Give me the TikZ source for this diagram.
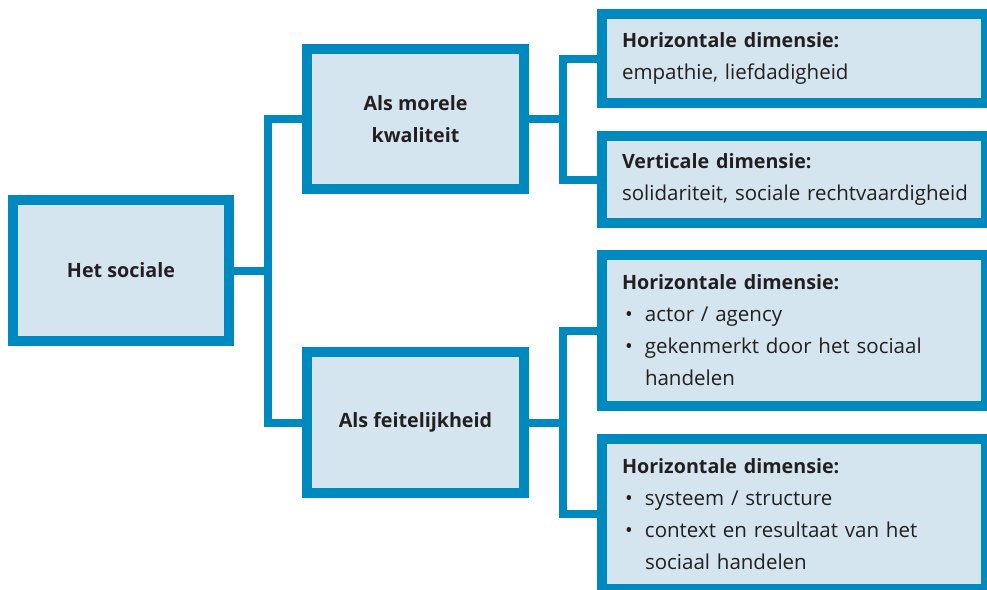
\documentclass[tikz,border=0pt]{standalone}
\usepackage{fontspec}
\setmainfont{Open Sans}
\usetikzlibrary{positioning}
\definecolor{dimblue}{HTML}{0089BF}
\definecolor{dimfill}{HTML}{D5E5F0}
\definecolor{dimtext}{HTML}{231F20}
\newcommand{\bulitem}{\makebox[23pt][l]{\hspace{3pt}\textbullet}}
\newcommand{\bulrest}{\hspace*{23pt}}
\newcommand{\dimhead}[1]{{\fontsize{19.7}{32}\selectfont\bfseries #1}}
\begin{document}
\begin{tikzpicture}[x=1pt,y=-1pt,
    box/.style={draw=dimblue,line width=10pt,fill=dimfill,text=dimtext,inner sep=0pt},
    mainbox/.style={box,minimum width=217pt,minimum height=141pt,align=center,font=\bfseries\fontsize{19.7}{32}\selectfont},
    dimbox/.style={box,text width=344pt,inner xsep=20pt,align=left,font=\fontsize{20.5}{32}\selectfont},
    link/.style={draw=dimblue,line width=8pt}]
    \clip (0,0) rectangle (987,589);
    \node[mainbox,minimum width=216pt] (soc) at (121,270.5) {Het sociale};
    \node[mainbox,minimum height=140pt] (mor) at (415.5,119) {Als morele\\kwaliteit};
    \node[mainbox] (feit) at (415.5,422.5) {Als feitelijkheid};
    \node[dimbox,minimum height=89pt] (hor) at (794,58.5) {\dimhead{Horizontale dimensie:}\\empathie, liefdadigheid};
    \node[dimbox,minimum height=87pt] (vert) at (794,179.5) {\dimhead{Verticale dimensie:}\\\mbox{solidariteit, sociale rechtvaardigheid}};
    \node[dimbox,minimum height=151pt] (act) at (794,330.5) {\dimhead{Horizontale dimensie:}\\\bulitem actor / agency\\\bulitem gekenmerkt door het sociaal\\\bulrest handelen};
    \node[dimbox,minimum height=150pt] (sys) at (794,514) {\dimhead{Horizontale dimensie:}\\\bulitem systeem / structure\\\bulitem context en resultaat van het\\\bulrest sociaal handelen};
    \coordinate (jl) at (268,270.5);
    \coordinate (jm) at (563,119);
    \coordinate (jf) at (563,422.5);
    \draw[link] (soc.east) -- (jl);
    \draw[link] (mor.west) -| (jl) |- (feit.west);
    \draw[link] (mor.east) -- (jm);
    \draw[link] (hor.west) -| (jm) |- (vert.west);
    \draw[link] (feit.east) -- (jf);
    \draw[link] (act.west) -| (jf) |- (sys.west);
\end{tikzpicture}
\end{document}
